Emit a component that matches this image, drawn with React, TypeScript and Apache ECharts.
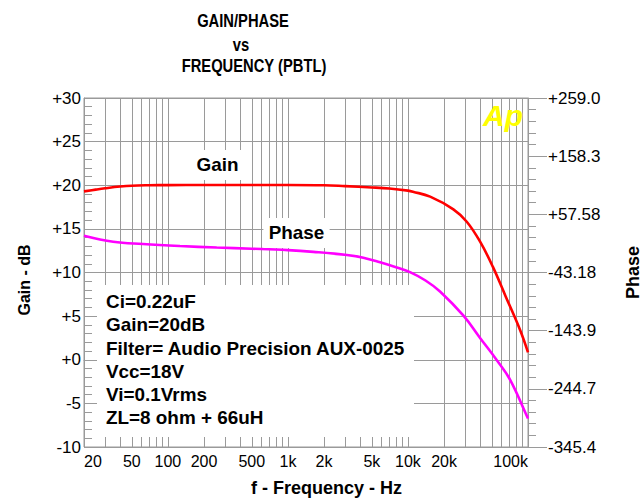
import React, { useEffect, useRef } from 'react';
import * as echarts from 'echarts';

// ---- data ----
const gainFreqs = [20, 25, 30, 40, 50, 70, 100, 200, 500, 1000, 2000, 3000, 5000, 7000, 10000, 11000, 15300, 23900, 30900, 39900, 50900, 65300, 85900, 100000];
const gainDb = [19.3, 19.5, 19.65, 19.85, 19.95, 20.0, 20.02, 20.03, 20.03, 20.03, 20.0, 19.9, 19.75, 19.62, 19.38, 19.26, 18.69, 17.24, 15.82, 13.53, 10.67, 7.23, 3.41, 0.85];

const phaseFreqs = [20, 35, 62, 126, 255, 500, 1000, 1630, 3100, 4250, 5860, 8070, 10400, 14000, 18500, 29000, 40000, 55000, 71000, 98000, 100000];
const phaseDeg = [20.5, 10.1, 6.2, 2.7, 0.0, -2.0, -4.5, -7.5, -12.9, -17.5, -25.5, -34.5, -42.5, -57, -76, -118, -157, -195, -229, -292, -296];

const freqLabelValues = [20, 50, 100, 200, 500, 1000, 2000, 5000, 10000, 20000, 100000];
const freqLabels = ['20', '50', '100', '200', '500', '1k', '2k', '5k', '10k', '20k', '100k'];
const gridFreqs = [30, 40, 50, 60, 70, 80, 90, 100, 200, 300, 400, 500, 600, 700, 800, 900, 1000, 2000, 3000, 4000, 5000, 6000, 7000, 8000, 9000, 10000, 20000, 30000, 40000, 50000, 60000, 70000, 80000, 90000];

const freqMin = 20;
const freqMax = 100000;
const gainMin = -10;
const gainMax = 30;
const gainStep = 5;
const phaseMin = -345.4;
const phaseMax = 259.0;
const phaseTickLabels = ['-345.4', '-244.7', '-143.9', '-43.18', '+57.58', '+158.3', '+259.0'];

const titleLines = ['GAIN/PHASE', 'vs', 'FREQUENCY (PBTL)'];
const noteLines = ['Ci=0.22uF', 'Gain=20dB', 'Filter= Audio Precision AUX-0025', 'Vcc=18V', 'Vi=0.1Vrms', 'ZL=8 ohm + 66uH'];

const FONT = "'Liberation Sans', Arial, Helvetica, sans-serif";
const GRID = '#9a9a9a';

const lg = (f: number) => Math.log10(f);

export default function App() {
  const ref = useRef<HTMLDivElement>(null);
  useEffect(() => {
    if (!ref.current) return;
    const chart = echarts.init(ref.current, undefined, { renderer: 'svg' });
    const phaseStep = (phaseMax - phaseMin) / 6;
    const titleStyle = (t: string) => ({ text: t, font: `bold 18px ${FONT}`, fill: '#000', align: 'center', verticalAlign: 'middle' });
    const option: any = {
      animation: false,
      backgroundColor: '#ffffff',
      grid: {
        left: 84, top: 98, width: 444, height: 349,
        containLabel: false, outerBoundsMode: 'none',
        show: true, borderColor: GRID, borderWidth: 1, backgroundColor: 'transparent',
      },
      xAxis: {
        type: 'value',
        min: lg(freqMin),
        max: lg(freqMax),
        name: 'f - Frequency - Hz',
        nameLocation: 'middle',
        nameGap: 32,
        nameTextStyle: { fontFamily: FONT, fontWeight: 'bold', fontSize: 18, color: '#000', padding: [0, 0, 0, 41] },
        axisLine: { show: true, lineStyle: { color: GRID, width: 1 } },
        axisTick: { show: true, inside: true, length: 9, lineStyle: { color: GRID }, customValues: gridFreqs.map(lg) },
        axisLabel: {
          customValues: freqLabelValues.map(lg),
          formatter: (v: number) => {
            const i = freqLabelValues.findIndex((f) => Math.abs(lg(f) - v) < 1e-6);
            return i >= 0 ? freqLabels[i] : '';
          },
          alignMinLabel: 'left',
          alignMaxLabel: 'right',
          color: '#000', fontFamily: FONT, fontSize: 16, margin: 6,
        },
        splitLine: { show: true, lineStyle: { color: GRID, width: 1 } },
      },
      yAxis: [
        {
          type: 'value',
          min: gainMin, max: gainMax, interval: gainStep,
          position: 'left',
          name: 'Gain - dB',
          nameLocation: 'middle',
          nameRotate: 90,
          nameGap: 52,
          nameTextStyle: { fontFamily: FONT, fontWeight: 'bold', fontSize: 16, color: '#000', padding: [0, 15, 0, 0] },
          axisLine: { show: true, lineStyle: { color: GRID } },
          axisTick: { show: false, inside: true },
          minorTick: { show: true, splitNumber: 5, length: 8, lineStyle: { color: GRID } },
          axisLabel: {
            formatter: (v: number) => (v >= 0 ? '+' + v : String(v)),
            color: '#000', fontFamily: FONT, fontSize: 17, margin: 3,
          },
          splitLine: { show: true, lineStyle: { color: GRID, width: 1 } },
        },
        {
          type: 'value',
          min: phaseMin, max: phaseMax, interval: phaseStep,
          position: 'right',
          name: 'Phase',
          nameLocation: 'middle',
          nameRotate: 90,
          nameGap: 96,
          nameTextStyle: { fontFamily: FONT, fontWeight: 'bold', fontSize: 18, color: '#000' },
          axisLine: { show: true, lineStyle: { color: GRID } },
          axisTick: { show: true, inside: false, length: 19, lineStyle: { color: GRID } },
          minorTick: { show: true, splitNumber: 5, length: 8, lineStyle: { color: GRID } },
          axisLabel: {
            formatter: (v: number) => {
              const i = Math.round((v - phaseMin) / phaseStep);
              return phaseTickLabels[i] ?? '';
            },
            color: '#000', fontFamily: FONT, fontSize: 17, margin: 20,
          },
          splitLine: { show: false },
        },
      ],
      series: [
        {
          name: 'Gain', type: 'line', xAxisIndex: 0, yAxisIndex: 0,
          data: gainFreqs.map((f, i) => [lg(f), gainDb[i]]),
          showSymbol: false, smooth: 0.4, z: 3,
          lineStyle: { color: '#ff0000', width: 2.6 },
        },
        {
          name: 'Phase', type: 'line', xAxisIndex: 0, yAxisIndex: 1,
          data: phaseFreqs.map((f, i) => [lg(f), phaseDeg[i]]),
          showSymbol: false, smooth: 0.4, z: 3,
          lineStyle: { color: '#ff00ff', width: 2.6 },
        },
      ],
      graphic: [
        { type: 'text', x: 243, y: 20, z: 50, scaleX: 0.82, style: titleStyle(titleLines[0]) },
        { type: 'text', x: 241, y: 44, z: 50, scaleX: 0.82, style: titleStyle(titleLines[1]) },
        { type: 'text', x: 254, y: 65, z: 50, scaleX: 0.82, style: titleStyle(titleLines[2]) },
        { type: 'rect', z: 50, shape: { x: 97, y: 285, width: 317, height: 152 }, style: { fill: '#ffffff' } },
        {
          type: 'text', x: 106, y: 290, z: 51, scaleX: 1.05,
          style: { text: noteLines.join('\n'), font: `bold 18px ${FONT}`, lineHeight: 23.3, fill: '#000', align: 'left', verticalAlign: 'top' },
        },
        {
          type: 'text', x: 217.5, y: 165, z: 51, scaleX: 1.05,
          style: { text: 'Gain', font: `bold 18px ${FONT}`, fill: '#000', align: 'center', verticalAlign: 'middle', backgroundColor: '#ffffff', padding: [6, 5, 6, 5] },
        },
        {
          type: 'text', x: 296.5, y: 233, z: 51, scaleX: 1.05,
          style: { text: 'Phase', font: `bold 18px ${FONT}`, fill: '#000', align: 'center', verticalAlign: 'middle', backgroundColor: '#ffffff', padding: [6, 5, 6, 5] },
        },
        {
          type: 'text', x: 503, y: 115, z: 51,
          style: { text: 'Ap', font: `italic bold 30px ${FONT}`, fill: '#ffff00', align: 'center', verticalAlign: 'middle' },
        },
      ],
    };
    chart.setOption(option);
    return () => chart.dispose();
  }, []);
  return <div ref={ref} style={{ position: 'fixed', left: 0, top: 0, width: 644, height: 501, background: '#fff' }} />;
}
